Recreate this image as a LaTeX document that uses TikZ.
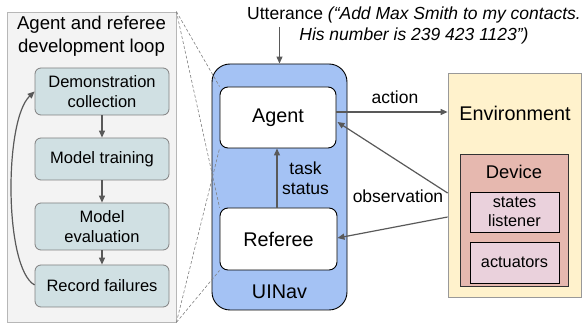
\documentclass[tikz,border=0pt]{standalone}
\usepackage{fontspec}
\setmainfont{Liberation Sans}
\usetikzlibrary{arrows.meta,calc}
\definecolor{panelfill}{HTML}{F3F3F3}
\definecolor{panelline}{HTML}{B7B7B7}
\definecolor{loopfill}{HTML}{D0E0E3}
\definecolor{loopline}{HTML}{808080}
\definecolor{uinavfill}{HTML}{A4C2F4}
\definecolor{envfill}{HTML}{FFF2CC}
\definecolor{envline}{HTML}{999999}
\definecolor{devfill}{HTML}{E6B8AF}
\definecolor{devline}{HTML}{333333}
\definecolor{innerfill}{HTML}{EAD1DC}
\definecolor{arrowcol}{HTML}{595959}
\tikzset{
  fs/.style={font=\fontsize{#1}{#1*1.2}\selectfont},
  box/.style={draw, inner sep=0pt, anchor=center},
  loopbox/.style={box, draw=loopline, fill=loopfill, rounded corners=6pt, line width=0.8pt,
    minimum width=134pt, align=center, font=\fontsize{16.5}{20}\selectfont},
  mainbox/.style={box, draw=black, fill=white, rounded corners=8pt, line width=0.9pt,
    align=center, font=\fontsize{19.8}{23}\selectfont},
  innerbox/.style={box, draw=black, fill=innerfill, line width=0.8pt, minimum width=89pt,
    align=center, font=\fontsize{16.3}{19}\selectfont},
  lbl/.style={inner sep=0pt, anchor=center, align=center},
  arr/.style={draw=arrowcol, line width=1.2pt, -{Triangle[length=7pt,width=6pt]}},
  zoomline/.style={draw=gray, line width=0.6pt, dash pattern=on 3pt off 2pt},
}
\begin{document}
\begin{tikzpicture}[x=1pt,y=-1pt]
\useasboundingbox (0,0) rectangle (582,323);
% left panel
\node[box, draw=panelline, fill=panelfill, line width=0.8pt, minimum width=169pt, minimum height=310pt] (loop) at (91.5,167) {};
\node[lbl, font=\fontsize{18.6}{23}\selectfont] (looptitle) at (91.5,36.5) {Agent and referee\\development loop};
\node[loopbox, minimum height=47pt] (demo) at (102,91.5) {Demonstration\\collection};
\node[loopbox, minimum height=42pt] (train) at (102,159) {Model training};
\node[loopbox, minimum height=47pt] (eval) at (102,226.5) {Model\\evaluation};
\node[loopbox, minimum height=42pt] (rec) at (102,286) {Record failures};
\draw[arr] (demo) -- (train);
\draw[arr] (train) -- (eval);
\draw[arr] (eval) -- (rec);
\draw[arr] ($(rec.west)+(0,-1)$) .. controls (4,268) and (4,120) .. ($(demo.west)+(0,0)$);
% UINav
\node[box, draw=black, fill=uinavfill, line width=0.9pt, rounded corners=18pt, minimum width=135pt, minimum height=246pt] (uinav) at (279.5,187) {};
\node[lbl, font=\fontsize{19.8}{23}\selectfont] (uinavlbl) at (279.5,292) {UINav};
\node[mainbox, minimum width=116pt, minimum height=61pt] (agent) at (278,117.5) {Agent};
\node[mainbox, minimum width=117pt, minimum height=62pt] (referee) at (278.5,239) {Referee};
\draw[arr] (referee.north -| 277,0) -- (agent.south -| 277,0);
\node[lbl, font=\fontsize{17.5}{20}\selectfont] (taskstatus) at (305.5,178) {task\\status};
% utterance
\node[lbl, font=\fontsize{17.5}{21}\selectfont] (utt) at (414,25.5) {Utterance \textit{(“Add Max Smith to my contacts.}\\\textit{His number is 239 423 1123”)}};
\coordinate (uttend) at (279.5,27);
\draw[arr] (uttend) -- (uinav.north);
% environment
\node[box, draw=envline, fill=envfill, line width=0.8pt, minimum width=133pt, minimum height=224pt] (env) at (514.5,185) {};
\node[lbl, font=\fontsize{19.8}{23}\selectfont] (envlbl) at (515,113) {Environment};
\node[box, draw=devline, fill=devfill, line width=0.8pt, minimum width=108pt, minimum height=132pt] (device) at (514,220) {};
\node[lbl, font=\fontsize{18.4}{22}\selectfont] (devlbl) at (514,172) {Device};
\node[innerbox, minimum height=40pt] (states) at (514.5,212) {states\\listener};
\node[innerbox, minimum height=41pt] (actuators) at (514.5,262.5) {actuators};
% connectors
\draw[arr] ($(agent.east)+(0,-5.5)$) -- ($(agent.east -| env.west)+(0,-5.5)$);
\node[lbl, font=\fontsize{17.5}{20}\selectfont] (actionlbl) at (395,97) {action};
\draw[arr] (env.west |- 0,193) -- ($(agent.east)+(1,4.5)$);
\draw[arr] (env.west |- 0,217) -- ($(referee.east)+(0,-1)$);
\node[lbl, font=\fontsize{17.5}{20}\selectfont] (obslbl) at (398,196) {observation};
% zoom lines
\draw[zoomline] (loop.north east) -- (agent.north west);
\draw[zoomline] (loop.north east) -- (referee.north west);
\draw[zoomline] (loop.south east) -- (agent.south west);
\draw[zoomline] (loop.south east) -- (referee.south west);
\end{tikzpicture}
\end{document}
